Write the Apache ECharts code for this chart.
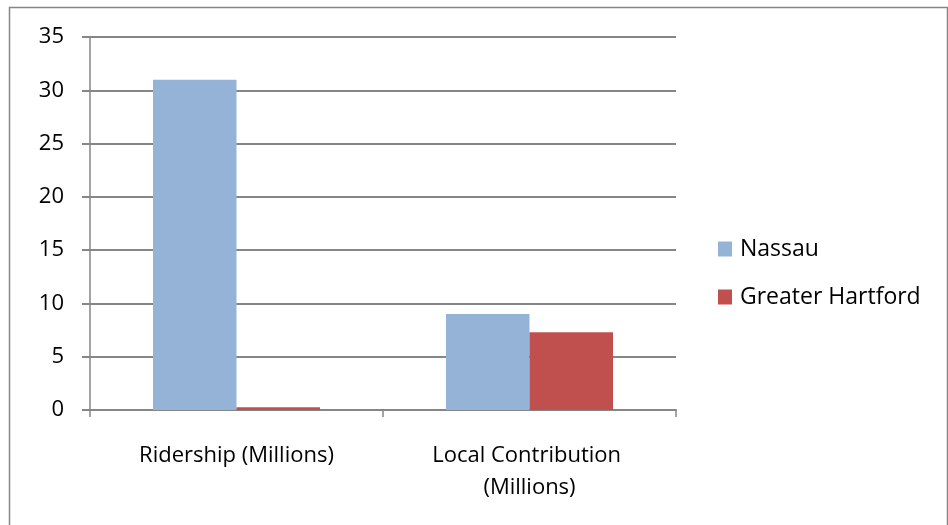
<!DOCTYPE html>
<html>
<head>
<meta charset="utf-8">
<script src="https://cdn.jsdelivr.net/npm/echarts@6/dist/echarts.min.js"></script>
<style>
html,body{margin:0;padding:0;background:#fff;}
#chart{width:948px;height:525px;}
</style>
</head>
<body>
<div id="chart"></div>
<script>
var categories = ['Ridership (Millions)', 'Local Contribution (Millions)'];
var seriesNames = ['Nassau', 'Greater Hartford'];
var nassau = [31, 9];
var hartford = [0.25, 7.3];
var yTicks = { min: 0, max: 35, interval: 5 };

var FONT = '"Open Sans", sans-serif';
var GREY = '#868686';

var chart = echarts.init(document.getElementById('chart'), null, { renderer: 'canvas' });
chart.setOption({
  animation: false,
  backgroundColor: '#ffffff',
  graphic: [{
    type: 'rect',
    shape: { x: 9.5, y: 7.5, width: 938, height: 530 },
    style: { fill: 'none', stroke: GREY, lineWidth: 1.5 },
    silent: true
  }],
  grid: { left: 90, right: 272, top: 37, bottom: 115, containLabel: false },
  legend: {
    orient: 'vertical',
    left: 713,
    top: 232,
    itemWidth: 14,
    itemHeight: 15,
    itemGap: 24,
    icon: 'rect',
    textStyle: { fontFamily: FONT, fontSize: 23, color: '#000', lineHeight: 24, padding: [0, 0, 0, 3] },
    data: seriesNames
  },
  xAxis: {
    type: 'category',
    data: categories,
    axisLine: { show: true, lineStyle: { color: GREY, width: 2 } },
    axisTick: { show: true, length: 7, alignWithLabel: false, lineStyle: { color: GREY, width: 1.5 } },
    axisLabel: {
      fontFamily: FONT, fontSize: 22, color: '#000', margin: 30, lineHeight: 32,
      width: 230, overflow: 'break', interval: 0
    }
  },
  yAxis: {
    type: 'value',
    min: yTicks.min,
    max: yTicks.max,
    interval: yTicks.interval,
    axisLine: { show: true, lineStyle: { color: GREY, width: 1.5 } },
    axisTick: { show: true, length: 8, lineStyle: { color: GREY, width: 2 } },
    splitLine: { show: true, lineStyle: { color: GREY, width: 2 } },
    axisLabel: { fontFamily: FONT, fontSize: 22, color: '#000', margin: 26 }
  },
  series: [
    {
      name: seriesNames[0], type: 'bar', data: nassau,
      barGap: '0%', barCategoryGap: '43%',
      itemStyle: { color: '#95B3D7' }
    },
    {
      name: seriesNames[1], type: 'bar', data: hartford,
      barGap: '0%', barCategoryGap: '43%',
      itemStyle: { color: '#C0504D' }
    }
  ]
});
</script>
</body>
</html>
